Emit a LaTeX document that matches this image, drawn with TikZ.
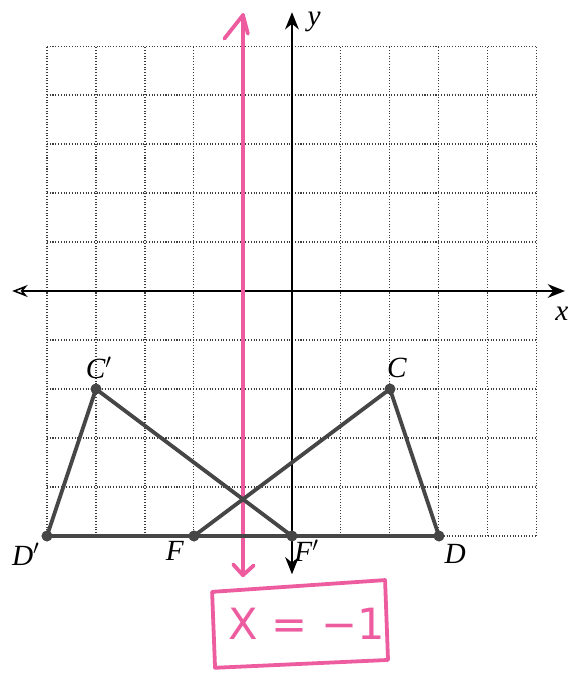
\documentclass[tikz,border=0pt]{standalone}
\usepackage{fontspec}
\setmainfont{Liberation Serif}
\usetikzlibrary{arrows.meta}
\definecolor{pinkline}{RGB}{238,92,160}
\definecolor{segcol}{RGB}{70,70,70}
\definecolor{gridcol}{RGB}{60,60,60}
\tikzset{
  gridline/.style={gridcol, line width=0.6pt, densely dotted},
  axisline/.style={black, line width=0.9pt},
  seg/.style={segcol, line width=2.2pt, line cap=round},
  pt/.style={circle, fill=segcol, inner sep=0pt, minimum size=0.22cm},
  lbl/.style={font=\itshape\fontsize{17}{19}\selectfont, inner sep=0pt},
  pinkstroke/.style={pinkline, line width=2.2pt, line cap=round, line join=round},
}
\newfontfamily\eqfont{DejaVu Sans}
\begin{document}
\begin{tikzpicture}
\useasboundingbox (-5.959,-7.837) rectangle (5.816,5.939);
% grid
\draw[gridline] (-5,-5) grid (5,5);
% axes
\coordinate (xl) at (-5.71,0);
\coordinate (xr) at (5.57,0);
\coordinate (yt) at (0,5.69);
\coordinate (yb) at (0,-5.78);
\draw[axisline, {Stealth[length=9pt,width=7pt,open]}-{Stealth[length=10pt,width=8pt]}] (xl) -- (xr);
\draw[axisline, {Stealth[length=10pt,width=8pt]}-{Stealth[length=10pt,width=8pt]}] (yb) -- (yt);
\node[lbl] (ylab) at (0.45,5.5) {y};
\node[lbl] (xlab) at (5.51,-0.47) {x};
% pink line x=-1
\coordinate (pt1) at (-1,5.63);
\coordinate (pb1) at (-1,-5.8);
\draw[pinkstroke] (pb1) -- (pt1);
\draw[pinkstroke] (-1.38,5.15) -- (pt1) -- (-0.9,5.25);
\draw[pinkstroke] (-1.2,-5.58) -- (pb1) -- (-0.78,-5.6);
% pink box
\draw[pinkstroke] (-1.63,-6.14) -- (1.90,-5.90) -- (1.96,-7.53) -- (-1.57,-7.69) -- cycle;
\node[pinkline, font=\eqfont\fontsize{25}{28}\selectfont, inner sep=0pt] (eq) at (0.3,-6.8) {X = −1};
% points
\node[pt] (C) at (2,-2) {};
\node[pt] (D) at (3,-5) {};
\node[pt] (F) at (-2,-5) {};
\node[pt] (Cp) at (-4,-2) {};
\node[pt] (Dp) at (-5,-5) {};
\node[pt] (Fp) at (0,-5) {};
% segments
\draw[seg] (Dp.center) -- (D.center);
\draw[seg] (Dp.center) -- (Cp.center) -- (Fp.center);
\draw[seg] (F.center) -- (C.center) -- (D.center);
% redraw points on top
\foreach \p in {C,D,F,Cp,Dp,Fp} \fill[segcol] (\p) circle (0.11);
% labels
\node[lbl] (lC) at (2.14,-1.57) {C};
\node[lbl] (lCp) at (-3.94,-1.57) {C$'$};
\node[lbl] (lD) at (3.33,-5.37) {D};
\node[lbl] (lDp) at (-5.43,-5.37) {D$'$};
\node[lbl] (lF) at (-2.39,-5.3) {F};
\node[lbl] (lFp) at (0.3,-5.3) {F$'$};
\end{tikzpicture}
\end{document}
